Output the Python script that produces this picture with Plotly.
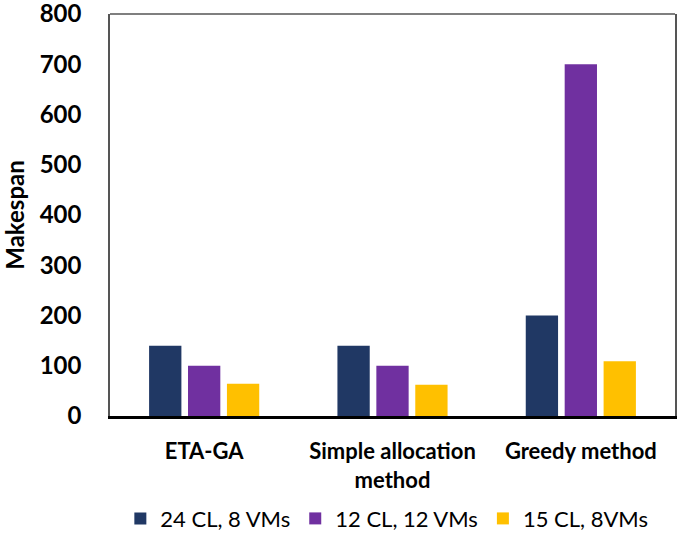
import plotly.graph_objects as go

categories = ["ETA-GA", "Simple allocation<br>method", "Greedy method"]
series_names = ["24 CL, 8 VMs", "12 CL, 12 VMs", "15 CL, 8VMs"]
s1 = [140, 140, 200]
s2 = [100, 100, 700]
s3 = [64, 62, 109]
colors = ["#203864", "#7030A0", "#FFC000"]
y_ticks = [0, 100, 200, 300, 400, 500, 600, 700, 800]

fig = go.Figure()
for name, vals, c in zip(series_names, [s1, s2, s3], colors):
    fig.add_trace(go.Bar(x=categories, y=vals, name=name, marker_color=c,
                         marker_line_width=0))

fig.update_layout(
    width=685, height=534,
    margin=dict(l=110, r=10, t=14, b=118, autoexpand=False),
    plot_bgcolor="white", paper_bgcolor="white",
    barmode="group", bargap=0.38, bargroupgap=0.17,
    font=dict(family="Lato, Open Sans, sans-serif", color="black"),
    legend=dict(orientation="h", x=0.49, xanchor="center", y=-0.203, yanchor="top",
                font=dict(size=22), itemwidth=30, traceorder="normal"),
    xaxis=dict(showline=True, linecolor="black", linewidth=3, mirror=False,
               automargin=False, ticklabelstandoff=14,
               tickfont=dict(size=22, weight="bold"), ticks=""),
    yaxis=dict(range=[0, 800], tickvals=y_ticks, showgrid=False,
               automargin=False, ticklabeloverflow="allow",
               showline=True, linecolor="#555555", linewidth=1.5, mirror=True,
               tickfont=dict(size=24, weight="bold"), ticks="", ticklabelstandoff=22,
               title=dict(text="Makespan", font=dict(size=24, weight="bold"), standoff=9)),
)
fig.add_shape(type="line", xref="paper", yref="paper", x0=0, x1=1, y0=1, y1=1,
              line=dict(color="#555555", width=1.5))
fig.write_html("out.html", config={"displayModeBar": False},
               post_script="document.body.style.margin='0';document.body.style.overflow='hidden';")
